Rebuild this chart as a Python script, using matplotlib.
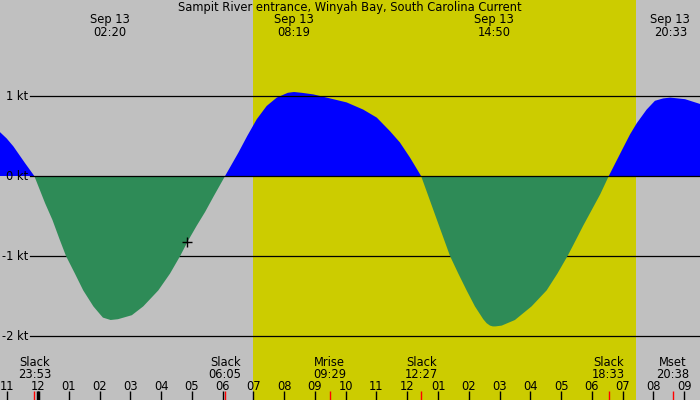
import matplotlib

matplotlib.use("Agg")
import matplotlib.pyplot as plt
import matplotlib.transforms as mtransforms

# --- data (hours after midnight, Sep 13; speed in knots) ---
times = [
    -1.24, -1.02, -0.80, -0.42, -0.12, 0.23, 0.47, 0.70, 0.91, 1.20, 1.47, 1.80,
    2.02, 2.11, 2.36, 2.60, 3.05, 3.42, 3.91, 4.29, 4.62, 4.89, 5.16, 5.43, 5.70,
    6.08, 6.51, 6.80, 7.11, 7.43, 7.76, 8.12, 8.32, 8.57, 8.95, 9.49, 10.03,
    10.57, 11.01, 11.44, 11.76, 12.09, 12.45, 12.76, 13.06, 13.23, 13.39, 13.66,
    13.93, 14.20, 14.47, 14.58, 14.69, 14.78, 14.87, 15.07, 15.50, 16.04, 16.53,
    16.88, 17.21, 17.40, 17.72, 18.27, 18.55, 19.00, 19.24, 19.46, 19.78, 20.05,
    20.32, 20.55, 21.03, 21.52,
]
speeds = [
    0.55, 0.47, 0.37, 0.16, 0.00, -0.34, -0.55, -0.79, -1.00, -1.22, -1.43, -1.63,
    -1.73, -1.77, -1.80, -1.79, -1.74, -1.63, -1.43, -1.22, -1.00, -0.80, -0.62, -0.45, -0.26,
    0.00, 0.29, 0.50, 0.71, 0.875, 0.98, 1.04, 1.05, 1.04, 1.02, 0.97, 0.92,
    0.83, 0.73, 0.56, 0.42, 0.23, 0.00, -0.33, -0.65, -0.83, -1.00, -1.22,
    -1.43, -1.63, -1.79, -1.84, -1.87, -1.88, -1.88, -1.87, -1.80, -1.63, -1.43,
    -1.22, -1.00, -0.86, -0.62, -0.23, 0.00, 0.34, 0.52, 0.66, 0.83, 0.94,
    0.97, 0.98, 0.96, 0.90,
]

peak_times = [2 + 20 / 60, 8 + 19 / 60, 14 + 50 / 60, 20 + 33 / 60]
peak_labels = ["02:20", "08:19", "14:50", "20:33"]

event_times = [-7 / 60, 6 + 5 / 60, 9 + 29 / 60, 12 + 27 / 60, 18 + 33 / 60, 20 + 38 / 60]
event_names = ["Slack", "Slack", "Mrise", "Slack", "Slack", "Mset"]
event_labels = ["23:53", "06:05", "09:29", "12:27", "18:33", "20:38"]

sunrise, sunset = 6 + 59 / 60, 19 + 26 / 60
now_time, now_speed = 4.84, -0.82

hour_ticks = list(range(-1, 22))
hour_labels = ["11", "12", "01", "02", "03", "04", "05", "06", "07", "08", "09", "10",
               "11", "12", "01", "02", "03", "04", "05", "06", "07", "08", "09"]
kt_levels = [1, 0, -1, -2]

title = "Sampit River entrance, Winyah Bay, South Carolina Current"

# --- figure: axes fill the whole 700x400 canvas ---
W, H = 700, 400
px_per_hour = 30.77
x0 = 38  # pixel column of midnight
fig = plt.figure(figsize=(7, 4), dpi=100, facecolor="#c0c0c0")
ax = fig.add_axes([0, 0, 1, 1])
ax.set_xlim(-x0 / px_per_hour, (W - x0) / px_per_hour)
ax.set_ylim(-2.8, 2.2)
ax.set_facecolor("#c0c0c0")
ax.set_xticks([])
ax.set_yticks([])
for sp in ax.spines.values():
    sp.set_visible(False)


def yf(p):
    # pixel row from top -> axes fraction
    return 1 - p / H


trans = mtransforms.blended_transform_factory(ax.transData, ax.transAxes)

ax.axvspan(sunrise, sunset, color="#cccc00", zorder=0, lw=0)

ax.fill_between(times, speeds, 0, where=[s >= 0 for s in speeds], interpolate=True,
                color="#0000ff", lw=0, zorder=1)
for lv in kt_levels:
    ax.axhline(lv, xmin=30 / W, xmax=1, color="black", lw=0.9,
               zorder=4 if lv == 0 else 2)
ax.fill_between(times, speeds, 0, where=[s <= 0 for s in speeds], interpolate=True,
                color="#2e8b57", lw=0, zorder=3)

txt = dict(family="DejaVu Sans", fontsize=8.3, color="black")

for lv in kt_levels:
    ax.text((28 - x0) / px_per_hour, lv, f"{lv} kt", ha="right",
            va="center", zorder=5, **txt)

ax.plot(now_time, now_speed, marker="+", color="black", ms=7, mew=1, zorder=6)

ax.text(0.5, yf(11), title, transform=ax.transAxes, ha="center", va="baseline", **txt)
for t, lab in zip(peak_times, peak_labels):
    # baseline of a two-line text is that of its last line
    ax.text(t, yf(36), "Sep 13\n" + lab, transform=trans, ha="center",
            va="baseline", multialignment="center", linespacing=0.95, **txt)

for t, name, lab in zip(event_times, event_names, event_labels):
    ax.text(t, yf(378), name + "\n" + lab, transform=trans, ha="center",
            va="baseline", multialignment="center", linespacing=0.95, **txt)
    ax.vlines(t, 0, yf(391), transform=trans, color="red", lw=1, zorder=5)

for t, lab in zip(hour_ticks, hour_labels):
    ax.text(t, yf(390), lab, transform=trans, ha="center", va="baseline", **txt)
    ax.vlines(t, 0, yf(391), transform=trans, color="black", lw=1, zorder=5)
ax.vlines(0, 0, yf(391), transform=trans, color="black", lw=2.5, zorder=5)

fig.savefig("out.png", dpi=100, facecolor=fig.get_facecolor())
